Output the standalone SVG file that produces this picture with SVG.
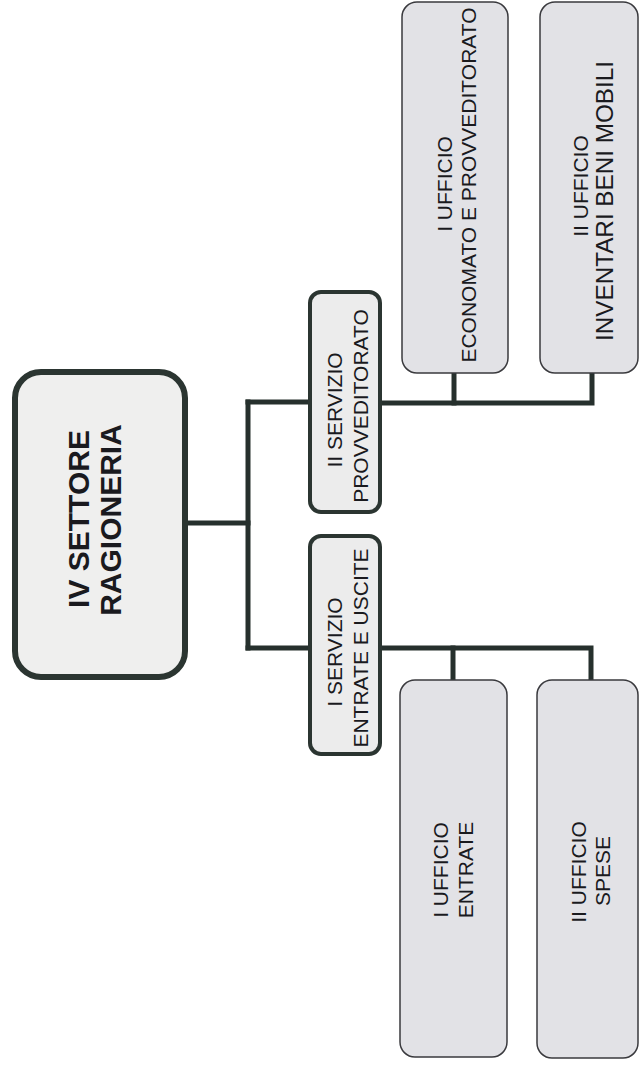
<svg xmlns="http://www.w3.org/2000/svg" width="640" height="1072" viewBox="0 0 640 1072">
<style>
.main{fill:#efefee;stroke:#2b3531;stroke-width:6}
.serv{fill:#ececec;stroke:#2b3531;stroke-width:4}
.off{fill:#e2e2e6;stroke:#3a3a3e;stroke-width:1.5}
.t{font-family:"Liberation Sans",Arial,sans-serif;fill:#1a1a1e;text-anchor:middle}
.tb{font-weight:bold;font-size:30px}
.ts{font-size:21px}
.conn{fill:none;stroke:#26302d;stroke-width:5;stroke-linejoin:miter;stroke-linecap:square}
</style>
<rect width="640" height="1072" fill="#ffffff"/>
<g id="connectors">
<path class="conn" d="M185,523 H248"/>
<path class="conn" d="M248,402 V648"/>
<path class="conn" d="M248,402 H310"/>
<path class="conn" d="M248,648 H310"/>
<path class="conn" d="M380,403 H592 V373"/>
<path class="conn" d="M454,403 V373"/>
<path class="conn" d="M380,648 H591 V680"/>
<path class="conn" d="M453,648 V680"/>
</g>
<g id="settore">
<rect class="main" x="15" y="372" width="170" height="305" rx="26"/>
<text class="t tb" transform="translate(89,519) rotate(-90)">IV SETTORE</text>
<text class="t tb" transform="translate(121,520) rotate(-90)">RAGIONERIA</text>
</g>
<g id="servizio2">
<rect class="serv" x="310" y="292" width="70" height="220" rx="11"/>
<text class="t ts" transform="translate(342,410) rotate(-90)">II SERVIZIO</text>
<text class="t ts" transform="translate(368,406) rotate(-90)">PROVVEDITORATO</text>
</g>
<g id="servizio1">
<rect class="serv" x="310" y="536" width="70" height="218" rx="11"/>
<text class="t ts" transform="translate(342,652) rotate(-90)">I SERVIZIO</text>
<text class="t ts" transform="translate(368,648) rotate(-90)">ENTRATE E USCITE</text>
</g>
<g id="ufficio-economato">
<rect class="off" x="402" y="2" width="106" height="371" rx="15"/>
<text class="t ts" transform="translate(452,184) rotate(-90)">I UFFICIO</text>
<text class="t ts" transform="translate(476,185) rotate(-90)">ECONOMATO E PROVVEDITORATO</text>
</g>
<g id="ufficio-inventari">
<rect class="off" x="540" y="2" width="98" height="371" rx="15"/>
<text class="t ts" transform="translate(588,186) rotate(-90)">II UFFICIO</text>
<text class="t" style="font-size:23px" textLength="280" lengthAdjust="spacingAndGlyphs" transform="translate(613,201) rotate(-90)">INVENTARI BENI MOBILI</text>
</g>
<g id="ufficio-entrate">
<rect class="off" x="400" y="680" width="107" height="377" rx="15"/>
<text class="t ts" transform="translate(448,870) rotate(-90)">I UFFICIO</text>
<text class="t ts" transform="translate(473,870) rotate(-90)">ENTRATE</text>
</g>
<g id="ufficio-spese">
<rect class="off" x="537" y="680" width="101" height="378" rx="15"/>
<text class="t ts" transform="translate(586,872) rotate(-90)">II UFFICIO</text>
<text class="t ts" transform="translate(610,871) rotate(-90)">SPESE</text>
</g>
</svg>
